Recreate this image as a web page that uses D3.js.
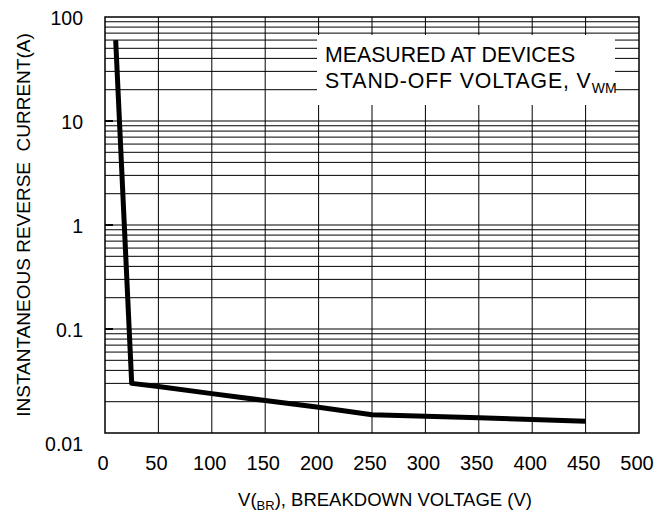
<!DOCTYPE html>
<html>
<head>
<meta charset="utf-8">
<script src="https://cdn.jsdelivr.net/npm/d3@7"></script>
<style>
  body { margin: 0; background: #fff; }
  svg { font-family: "Liberation Sans", Arial, sans-serif; }
</style>
</head>
<body>
<div id="chart"></div>
<script>
// breakdown voltage (V) vs instantaneous reverse current (A)
const voltage = [10, 25, 50, 100, 150, 200, 250, 300, 350, 400, 450];
const current = [60, 0.030, 0.028, 0.0239, 0.0205, 0.0177, 0.0150, 0.0145, 0.0140, 0.0135, 0.0130];

const xTicks = [0, 50, 100, 150, 200, 250, 300, 350, 400, 450, 500];
const yTicks = [0.01, 0.1, 1, 10, 100];
const yTickLabels = ["0.01", "0.1", "1", "10", "100"];

const drawChart = (element) => {
  const svgWidth = 670, svgHeight = 513;
  const margin = { top: 17, bottom: 80, left: 105, right: 31 };
  const h = svgHeight - margin.top - margin.bottom;
  const w = svgWidth - margin.left - margin.right;

  const data = voltage.map((v, i) => ({ v, c: current[i] }));

  const xScale = d3.scaleLinear().domain([0, 500]).range([0, w]);
  const yScale = d3.scaleLog().domain([0.01, 100]).range([h, 0]);

  const svg = d3.select(element).append("svg")
    .attr("width", svgWidth)
    .attr("height", svgHeight)
    .append("g")
    .attr("transform", `translate(${margin.left}, ${margin.top})`);

  // minor + major log grid
  const yGrid = [];
  [0.01, 0.1, 1, 10].forEach((dec) => {
    for (let m = 1; m <= 9; m++) if (dec * m > 0.01) yGrid.push(dec * m);
  });
  svg.append("g").attr("id", "y-grid")
    .selectAll("line").data(yGrid).enter().append("line")
    .attr("x1", 0).attr("x2", w)
    .attr("y1", (d) => yScale(d)).attr("y2", (d) => yScale(d))
    .attr("stroke", "#000").attr("stroke-width", 1);

  svg.append("g").attr("id", "x-grid")
    .selectAll("line").data(xTicks.slice(1, -1)).enter().append("line")
    .attr("x1", (d) => xScale(d)).attr("x2", (d) => xScale(d))
    .attr("y1", 0).attr("y2", h)
    .attr("stroke", "#000").attr("stroke-width", 1);

  // short ticks on the left at decades
  svg.append("g")
    .selectAll("line").data(yTicks.slice(1, -1)).enter().append("line")
    .attr("x1", 0).attr("x2", 8)
    .attr("y1", (d) => yScale(d)).attr("y2", (d) => yScale(d))
    .attr("stroke", "#000").attr("stroke-width", 2);

  // annotation box
  const box = svg.append("g").attr("id", "note");
  box.append("rect")
    .attr("x", 212).attr("y", 18)
    .attr("width", 298).attr("height", 70)
    .attr("fill", "#fff");
  box.append("text")
    .attr("x", 220).attr("y", 44.5)
    .attr("font-size", 21.3)
    .text("MEASURED AT DEVICES");
  const t2 = box.append("text")
    .attr("x", 220).attr("y", 71)
    .attr("font-size", 21.3);
  t2.append("tspan").attr("letter-spacing", 0.85).text("STAND-OFF VOLTAGE, V");
  t2.append("tspan").attr("font-size", 14).attr("dy", 5).text("WM");

  // curve
  const line = d3.line().x((d) => xScale(d.v)).y((d) => yScale(d.c));
  svg.append("path").datum(data)
    .attr("d", line)
    .attr("fill", "none")
    .attr("stroke", "#000")
    .attr("stroke-width", 5)
    .attr("stroke-linejoin", "round");

  // frame
  svg.append("rect")
    .attr("x", 0).attr("y", 0).attr("width", w).attr("height", h)
    .attr("fill", "none").attr("stroke", "#000").attr("stroke-width", 1.5);

  // axes
  const xAxis = d3.axisBottom(xScale).tickValues(xTicks).tickSize(0).tickPadding(23)
    .tickFormat(d3.format("d"));
  const gx = svg.append("g").attr("id", "x-axis")
    .attr("transform", `translate(0, ${h})`).call(xAxis);
  gx.select(".domain").remove();
  gx.selectAll("text").attr("font-size", 20).attr("font-family", null)
    .attr("dx", -2.5).attr("fill", "#000");

  const yAxis = d3.axisLeft(yScale).tickValues(yTicks).tickSize(0).tickPadding(22)
    .tickFormat((d, i) => yTickLabels[i]);
  const gy = svg.append("g").attr("id", "y-axis").call(yAxis);
  gy.select(".domain").remove();
  gy.selectAll("text").attr("font-size", 19.5).attr("font-family", null).attr("fill", "#000")
    .attr("dy", (d) => (d === 0.01 ? "0.9em" : "0.36em"));

  // axis titles
  const xt = svg.append("text")
    .attr("x", 280).attr("y", h + 73)
    .attr("text-anchor", "middle")
    .attr("font-size", 18.5);
  xt.append("tspan").text("V(");
  xt.append("tspan").attr("font-size", 13).attr("dy", 4).text("BR");
  xt.append("tspan").attr("dy", -4).text("), BREAKDOWN VOLTAGE (V)");

  svg.append("text")
    .attr("transform", `translate(${30 - margin.left}, ${h / 2}) rotate(-90)`)
    .attr("text-anchor", "middle")
    .attr("font-size", 19)
    .style("white-space", "pre")
    .text("INSTANTANEOUS REVERSE  CURRENT(A)");
};

drawChart(document.getElementById("chart"));
</script>
</body>
</html>
